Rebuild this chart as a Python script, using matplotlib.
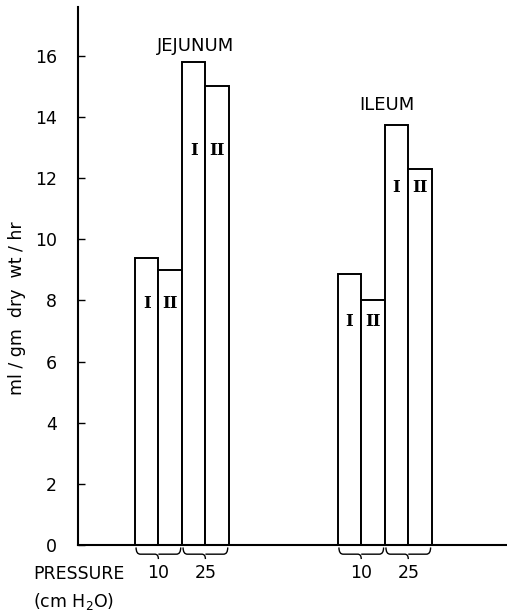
import numpy as np
import matplotlib.pyplot as plt
from matplotlib.path import Path
from matplotlib.patches import PathPatch

plt.rcParams['font.family'] = ['DejaVu Sans']

# data (ml/gm dry wt/hr)
groups = ['JEJUNUM', 'ILEUM']
pressures = ['10', '25']
series = ['I', 'II']
jejunum = [9.4, 9.0, 15.8, 15.0]
ileum = [8.85, 8.0, 13.75, 12.3]
yticks = [0, 2, 4, 6, 8, 10, 12, 14, 16]

# layout
group_start = [2.42, 11.05]
title_pos = [(5.02, 16.34), (13.15, 14.38)]
numeral_y = [[7.9, 7.9, 12.9, 12.9], [7.3, 7.3, 11.7, 11.7]]


def brace(ax, x0, x1, top=-0.08, mid=-0.3, tip=-0.46):
    xc = (x0 + x1) / 2
    verts = [(x0, top), (x0, mid), (x0 + 0.18, mid),
             (xc - 0.15, mid),
             (xc, mid), (xc, tip),
             (xc, mid), (xc + 0.15, mid),
             (x1 - 0.18, mid),
             (x1, mid), (x1, top)]
    codes = [Path.MOVETO, Path.CURVE3, Path.CURVE3,
             Path.LINETO,
             Path.CURVE3, Path.CURVE3,
             Path.MOVETO, Path.LINETO,
             Path.LINETO,
             Path.CURVE3, Path.CURVE3]
    ax.add_patch(PathPatch(Path(verts, codes), fill=False, lw=1.0,
                           color='black', clip_on=False))


fig = plt.figure(figsize=(5.07, 6.13), dpi=100)
ax = fig.add_axes([78 / 507, 68 / 613, 429 / 507, 538 / 613])

for g, vals in enumerate([jejunum, ileum]):
    xs = group_start[g] + np.arange(len(vals))
    ax.bar(xs, vals, width=1.0, align='edge', facecolor='white',
           edgecolor='black', linewidth=1.4)
    for i, x in enumerate(xs):
        ax.text(x + 0.5, numeral_y[g][i], series[i % 2], ha='center',
                va='center', fontsize=12, fontweight='bold',
                family='DejaVu Serif')
    for p, lab in enumerate(pressures):
        x0 = group_start[g] + 2 * p
        brace(ax, x0 + 0.05, x0 + 1.95)
        ax.text(x0 + 1.0, -0.92, lab, ha='center', va='center',
                fontsize=12.5)
    ax.text(title_pos[g][0], title_pos[g][1], groups[g], ha='center',
            va='center', fontsize=13)

ax.set_xlim(0, 18.25)
ax.set_ylim(0, 17.6)
ax.set_xticks([])
ax.set_yticks(yticks)
ax.tick_params(axis='y', direction='in', length=5, width=1.0, pad=15,
               labelsize=12.5)
for s in ['top', 'right']:
    ax.spines[s].set_visible(False)
for s in ['left', 'bottom']:
    ax.spines[s].set_linewidth(1.5)

ax.set_ylabel('ml / gm  dry  wt / hr', fontsize=12.5)
ax.yaxis.set_label_coords(-0.122, 0.44)

fig.text(33 / 507, 1 - 574 / 613, 'PRESSURE', ha='left', va='center',
         fontsize=12.5)
fig.text(33 / 507, 1 - 601 / 613, '(cm H$_2$O)', ha='left', va='center',
         fontsize=12.5)

fig.savefig('out.png', dpi=100)
